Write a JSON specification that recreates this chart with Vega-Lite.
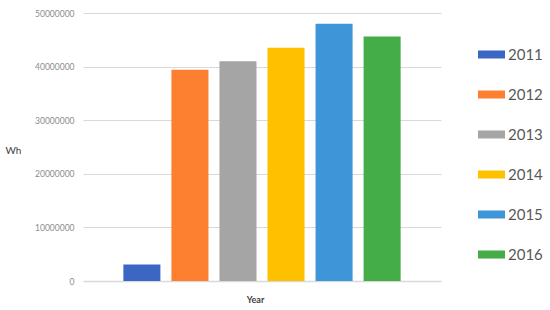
{
  "$schema": "https://vega.github.io/schema/vega-lite/v6.json",
  "width": 358,
  "height": 268,
  "autosize": {"type": "none"},
  "padding": {"left": 83, "top": 13, "right": 109, "bottom": 29},
  "background": "white",
  "config": {"view": {"stroke": null}, "font": "Lato"},
  "data": {"values": [
    {"Year": "2011", "Wh": 3100000},
    {"Year": "2012", "Wh": 39400000},
    {"Year": "2013", "Wh": 41000000},
    {"Year": "2014", "Wh": 43500000},
    {"Year": "2015", "Wh": 48000000},
    {"Year": "2016", "Wh": 45600000}
  ]},
  "mark": {"type": "bar"},
  "encoding": {
    "x": {
      "field": "Year", "type": "nominal",
      "scale": {"paddingInner": 0.229, "paddingOuter": 0.84},
      "axis": {"labels": false, "ticks": false, "title": "Year", "domainColor": "#d9d9d9", "domainWidth": 1.5,
               "titleFontSize": 9, "titleFontWeight": "bold", "titleColor": "#404040", "titleX": 172, "titleY": 18, "titleBaseline": "middle"}
    },
    "y": {
      "field": "Wh", "type": "quantitative",
      "scale": {"domain": [0, 50000000]},
      "axis": {"values": [0, 10000000, 20000000, 30000000, 40000000, 50000000], "format": "d",
               "domain": false, "ticks": false, "labelColor": "#8c8c8c", "labelFontSize": 8.5, "labelPadding": 9,
               "gridColor": "#d9d9d9", "title": "Wh", "titleAngle": 0, "titleX": -78, "titleY": 137,
               "titleAlign": "left", "titleBaseline": "middle", "titleFontSize": 10, "titleFontWeight": "normal", "titleColor": "#404040"}
    },
    "color": {
      "field": "Year", "type": "nominal",
      "scale": {"range": ["#3C66C4", "#FD7F30", "#A5A5A5", "#FFC000", "#3E96D9", "#44AD47"]},
      "legend": {
        "orient": "none", "legendX": 395, "legendY": 28, "title": null, "padding": 0,
        "symbolType": "M-1,-0.3H1V0.3H-1Z", "symbolSize": 729, "symbolStrokeWidth": 0, "symbolOpacity": 1,
        "rowPadding": 13, "labelFontSize": 15, "labelColor": "#595959", "labelOffset": 3,
        "labelFontWeight": "normal", "symbolLimit": 10, "clipHeight": 27, "columnPadding": 0
      }
    }
  }
}
